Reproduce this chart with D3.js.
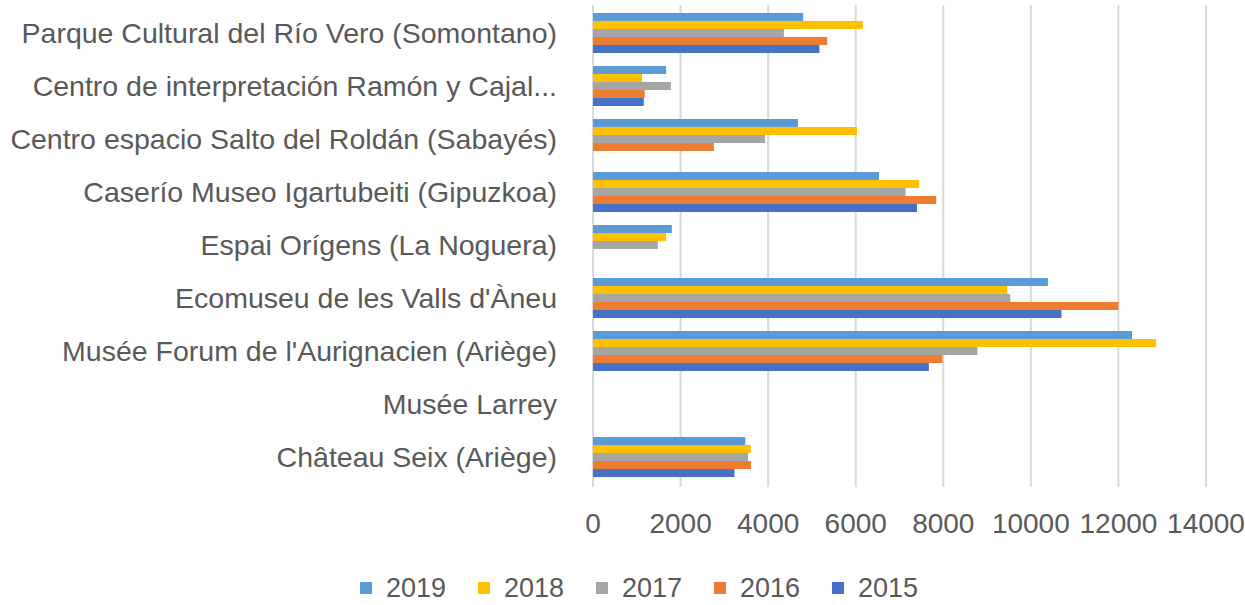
<!DOCTYPE html>
<html>
<head>
  <meta charset="utf-8">
  <title>Visitantes por año</title>
  <script src="https://d3js.org/d3.v7.min.js"></script>
  <style>
    body { margin: 0; background: #fff; }
    text { font-family: "Liberation Sans", Arial, sans-serif; fill: #595959; }
  </style>
</head>
<body>
  <svg id="chart"></svg>

  <script>
    // categorie (dall'alto verso il basso)
    var categories = [
      "Parque Cultural del Río Vero (Somontano)",
      "Centro de interpretación Ramón y Cajal...",
      "Centro espacio Salto del Roldán (Sabayés)",
      "Caserío Museo Igartubeiti (Gipuzkoa)",
      "Espai Orígens (La Noguera)",
      "Ecomuseu de les Valls d'Àneu",
      "Musée Forum de l'Aurignacien (Ariège)",
      "Musée Larrey",
      "Château Seix (Ariège)"
    ];
    var years = ["2019", "2018", "2017", "2016", "2015"];
    var colors = ["#5B9BD5", "#FFC000", "#A5A5A5", "#ED7D31", "#4472C4"];

    // valori per anno, nello stesso ordine delle categorie
    var v2019 = [4800, 1670, 4680, 6530, 1800, 10390, 12310, 0, 3480];
    var v2018 = [6160, 1120, 6030, 7450, 1670, 9460, 12860, 0, 3600];
    var v2017 = [4360, 1780, 3930, 7140, 1480, 9530, 8780, 0, 3540];
    var v2016 = [5350, 1180, 2760, 7840, 0, 12000, 7980, 0, 3610];
    var v2015 = [5170, 1160, 0, 7400, 0, 10700, 7670, 0, 3230];
    var series = [v2019, v2018, v2017, v2016, v2015];

    var xTicks = [0, 2000, 4000, 6000, 8000, 10000, 12000, 14000];

    var width = 1245, height = 605;
    var svg = d3.select("#chart").attr("width", width).attr("height", height);

    var x = d3.scaleLinear().domain([0, 14000]).range([593, 1206]);
    var y = d3.scaleBand().domain(categories).range([6.5, 483.5]).paddingInner(0.245).paddingOuter(0.122);
    var ySub = d3.scaleBand().domain(years).range([0, y.bandwidth()]);

    // griglia verticale
    svg.append("g").selectAll("line")
      .data(xTicks)
      .enter()
      .append("line")
      .attr("x1", function(d) { return x(d); })
      .attr("x2", function(d) { return x(d); })
      .attr("y1", 5)
      .attr("y2", 487)
      .attr("stroke", "#d9d9d9")
      .attr("stroke-width", 2);

    // barre
    var groups = svg.append("g").selectAll("g")
      .data(categories)
      .enter()
      .append("g")
      .attr("transform", function(d) { return "translate(0," + y(d) + ")"; });

    groups.selectAll("rect")
      .data(function(d, i) {
        return years.map(function(yr, k) { return { year: yr, value: series[k][i], color: colors[k] }; });
      })
      .enter()
      .filter(function(d) { return d.value > 0; })
      .append("rect")
      .attr("x", x(0))
      .attr("y", function(d) { return ySub(d.year); })
      .attr("width", function(d) { return x(d.value) - x(0); })
      .attr("height", ySub.bandwidth())
      .attr("fill", function(d) { return d.color; });

    // etichette categorie
    svg.append("g").selectAll("text")
      .data(categories)
      .enter()
      .append("text")
      .attr("x", 557)
      .attr("y", function(d) { return y(d) + y.bandwidth() / 2; })
      .attr("dy", "0.35em")
      .attr("text-anchor", "end")
      .style("font-size", "28.5px")
      .text(function(d) { return d; });

    // etichette asse x
    svg.append("g").selectAll("text")
      .data(xTicks)
      .enter()
      .append("text")
      .attr("x", function(d) { return x(d); })
      .attr("y", 533)
      .attr("text-anchor", "middle")
      .style("font-size", "28px")
      .text(function(d) { return d; });

    // legenda
    var legend = svg.append("g").selectAll("g")
      .data(years)
      .enter()
      .append("g")
      .attr("transform", function(d, i) { return "translate(" + (360 + i * 118) + ",0)"; });

    legend.append("rect")
      .attr("x", 0).attr("y", 582)
      .attr("width", 12).attr("height", 12)
      .attr("fill", function(d, i) { return colors[i]; });

    legend.append("text")
      .attr("x", 26).attr("y", 597)
      .style("font-size", "27px")
      .text(function(d) { return d; });
  </script>
</body>
</html>
